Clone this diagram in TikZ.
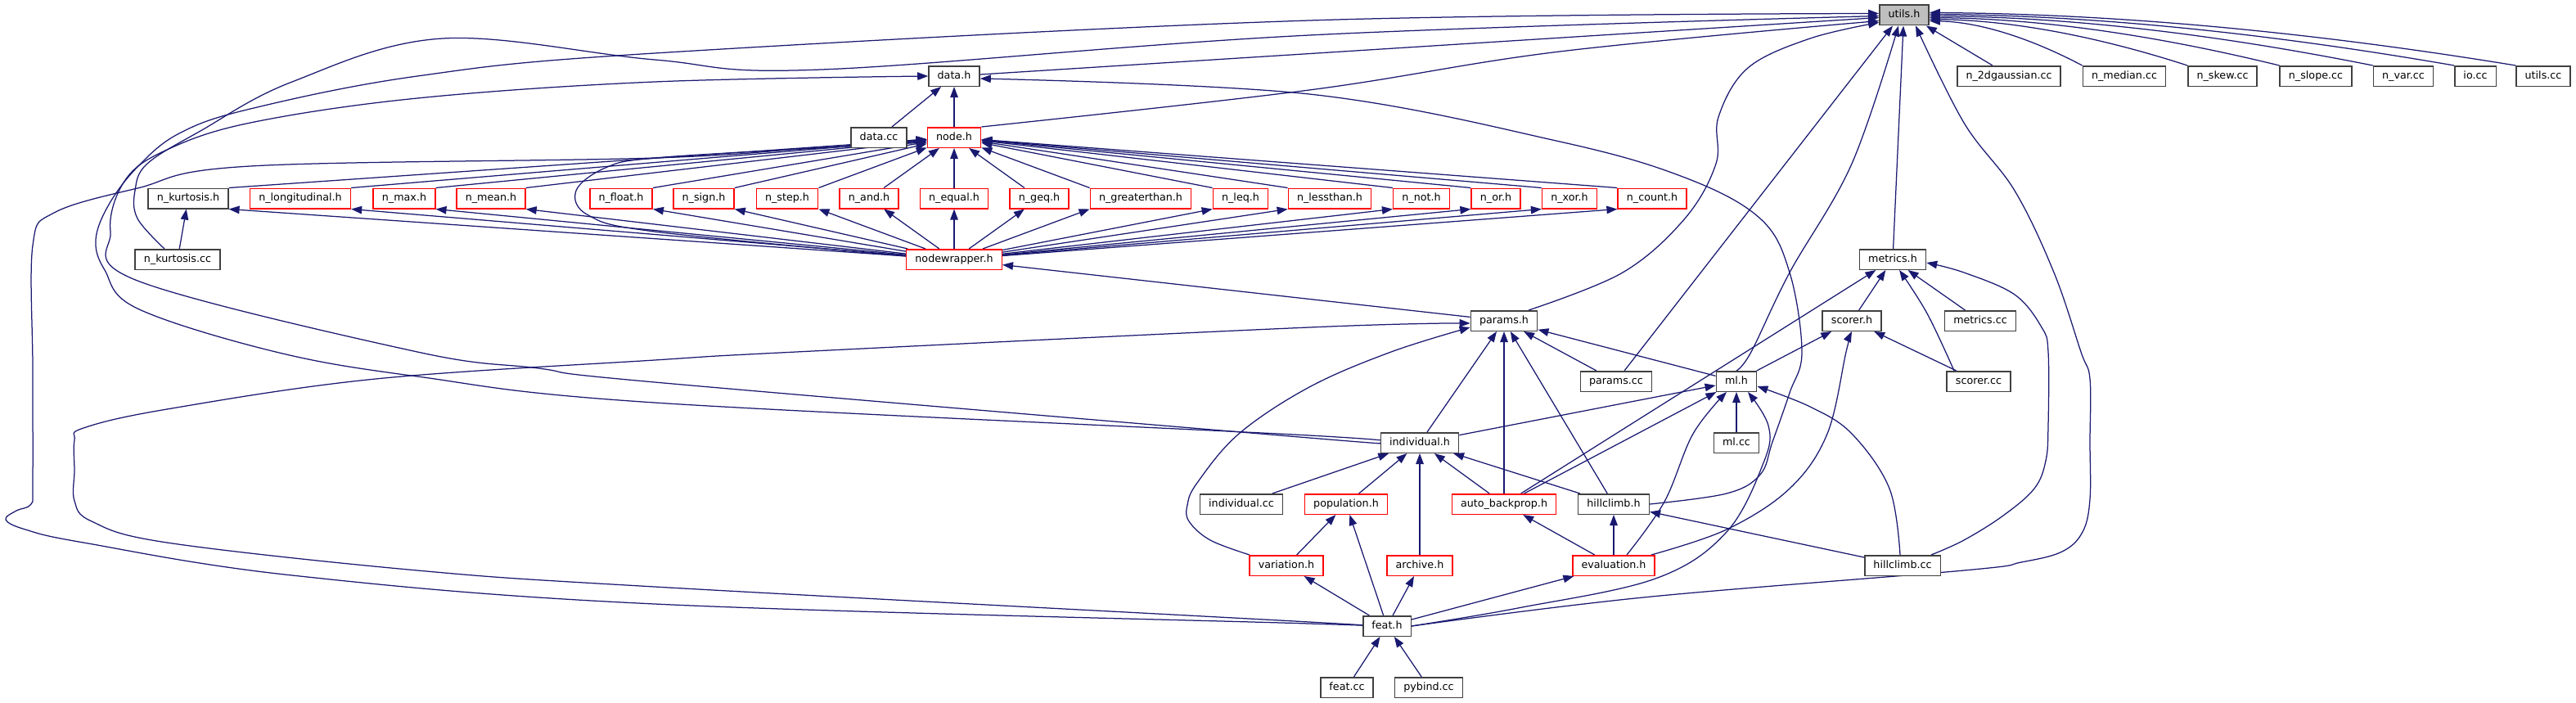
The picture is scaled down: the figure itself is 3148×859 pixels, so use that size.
\documentclass[tikz,border=0pt]{standalone}
\usepackage{fontspec}
\setmainfont{DejaVu Sans}
\usetikzlibrary{arrows.meta}
\definecolor{edgeblue}{HTML}{191970}
\definecolor{boxgray}{HTML}{404040}
\definecolor{rootfill}{HTML}{BFBFBF}
\definecolor{boxred}{HTML}{FF0000}
\pgfdeclarelayer{bg}
\pgfsetlayers{bg,main}
\tikzset{
  bx/.style={draw=boxgray, line width=1.5pt, fill=white, minimum height=24.5pt,
    inner xsep=10.7pt, inner ysep=0pt, text height=9.7pt, text depth=3pt,
    font=\fontsize{12.7}{14}\selectfont},
  rbx/.style={bx, draw=boxred},
  rootbx/.style={bx, fill=rootfill},
  e/.style={draw=edgeblue, line width=1.25pt, -{Triangle[length=13pt,width=9.5pt]}},
  sm/.style={smooth, tension=0.6},
}
\begin{document}
\begin{tikzpicture}[x=1pt,y=-1pt]
\useasboundingbox (0,0) rectangle (3148,859);
% row 0
\node[rootbx] (utilsh) at (2327,18.5) {utils.h};
% row 1
\node[bx] (datah) at (1166,93) {data.h};
\node[bx] (g2d) at (2455,93) {n\_2dgaussian.cc};
\node[bx] (median) at (2596,93) {n\_median.cc};
\node[bx] (skew) at (2716,93) {n\_skew.cc};
\node[bx] (slope) at (2830,93) {n\_slope.cc};
\node[bx] (nvarcc) at (2937,93) {n\_var.cc};
\node[bx] (iocc) at (3025,93) {io.cc};
\node[bx] (utilscc) at (3108,93) {utils.cc};
% row 2
\node[bx] (datacc) at (1074,168) {data.cc};
\node[rbx] (nodeh) at (1166,168) {node.h};
% row 3
\node[bx] (nkurt) at (230,242.5) {n\_kurtosis.h};
\node[rbx] (nlongi) at (367,242.5) {n\_longitudinal.h};
\node[rbx] (nmax) at (494,242.5) {n\_max.h};
\node[rbx] (nmean) at (600,242.5) {n\_mean.h};
\node[rbx] (nfloat) at (759,242.5) {n\_float.h};
\node[rbx] (nsign) at (860,242.5) {n\_sign.h};
\node[rbx] (nstep) at (962,242.5) {n\_step.h};
\node[rbx] (nand) at (1062,242.5) {n\_and.h};
\node[rbx] (nequal) at (1166,242.5) {n\_equal.h};
\node[rbx] (ngeq) at (1270,242.5) {n\_geq.h};
\node[rbx] (ngt) at (1394,242.5) {n\_greaterthan.h};
\node[rbx] (nleq) at (1516,242.5) {n\_leq.h};
\node[rbx] (nlt) at (1625,242.5) {n\_lessthan.h};
\node[rbx] (nnot) at (1737,242.5) {n\_not.h};
\node[rbx] (nor) at (1828,242.5) {n\_or.h};
\node[rbx] (nxor) at (1918,242.5) {n\_xor.h};
\node[rbx] (ncount) at (2019,242.5) {n\_count.h};
% row 4
\node[bx] (kurtcc) at (217,317) {n\_kurtosis.cc};
\node[rbx] (nw) at (1166,317) {nodewrapper.h};
\node[bx] (metrics) at (2313,317) {metrics.h};
% row 5
\node[bx] (params) at (1838,392) {params.h};
\node[bx] (scorer) at (2263,392) {scorer.h};
\node[bx] (metricscc) at (2420,392) {metrics.cc};
% row 6
\node[bx] (paramscc) at (1975,466) {params.cc};
\node[bx] (ml) at (2122,466) {ml.h};
\node[bx] (scorercc) at (2418,466) {scorer.cc};
% row 7
\node[bx] (indiv) at (1735,541) {individual.h};
\node[bx] (mlcc) at (2122,541) {ml.cc};
% row 8
\node[bx] (indivcc) at (1517,616) {individual.cc};
\node[rbx] (pop) at (1645,616) {population.h};
\node[rbx] (ab) at (1838,616) {auto\_backprop.h};
\node[bx] (hc) at (1972,616) {hillclimb.h};
% row 9
\node[rbx] (variation) at (1572,691) {variation.h};
\node[rbx] (archive) at (1735,691) {archive.h};
\node[rbx] (eval) at (1972,691) {evaluation.h};
\node[bx] (hccc) at (2325,691) {hillclimb.cc};
% row 10, 11
\node[bx] (feat) at (1695,765) {feat.h};
\node[bx] (featcc) at (1646,840) {feat.cc};
\node[bx] (pybind) at (1746,840) {pybind.cc};

\begin{pgfonlayer}{bg}
% ---- into utils.h
\draw[e] (datah) -- ([yshift=-3pt]utilsh.west);
\draw[e] plot[sm] coordinates {(nodeh.north east) (1600,110) (1906,63) ([yshift=-7pt]utilsh.west)};
\draw[e] plot[sm] coordinates {([xshift=-16pt]kurtcc.north) (168,267) (165,233) (180,200) (245,160) (357,100) (541,47) (800,73) (1004,85) (1600,43) ([yshift=-1pt]utilsh.west)};
\draw[e] plot[sm] coordinates {(indiv.west) (1600,532) (800,492) (510,460) (337,430) (168,377) (128,330) (117,293) (133,250) (168,204) (219,163) (306,133) (510,93) (800,65) (1600,25) ([yshift=2pt]utilsh.west)};
\draw[e] plot[sm] coordinates {([xshift=30pt]params.north) (1983,333) (2059,267) (2097,200) (2100,143) (2136,83) (2212,47) ([yshift=-9pt]utilsh.west)};
\draw[e] (paramscc) -- ([xshift=-14pt]utilsh.south);
\draw[e] plot[sm] coordinates {(ml.north) (2140,430) (2187,333) (2263,200) ([xshift=-7pt]utilsh.south)};
\draw[e] (metrics) -- ([xshift=-1pt]utilsh.south);
\draw[e] plot[sm] coordinates {(feat.east) (2008,730) (2400,697) (2470,687) (2520,674) (2545,650) (2554,610) (2554,540) (2554,463) (2543,430) (2510,333) (2462,233) (2400,150) ([xshift=14pt]utilsh.south)};
\draw[e] ([xshift=-20pt]g2d.north) -- ([xshift=-4pt]utilsh.south east);
\draw[e] (median.north west) .. controls (2482,47) and (2420,27) .. ([yshift=-7pt]utilsh.east);
\draw[e] (skew.north west) .. controls (2568,46) and (2463,25) .. ([yshift=-5pt]utilsh.east);
\draw[e] (slope.north west) .. controls (2642,45) and (2501,23) .. ([yshift=-3pt]utilsh.east);
\draw[e] (nvarcc.north west) .. controls (2719,44) and (2539,21) .. ([yshift=-1pt]utilsh.east);
\draw[e] (iocc.north west) .. controls (2785,43) and (2572,19) .. ([yshift=1pt]utilsh.east);
\draw[e] (utilscc.north west) .. controls (2836,41) and (2597,17) .. ([yshift=3pt]utilsh.east);
% ---- into data.h
\draw[e] (datacc) -- (datah);
\draw[e] (nodeh) -- (datah);
\draw[e] plot[sm] coordinates {(indiv.west) (1600,535) (800,467) (658,450) (510,430) (168,343) (135,283) (153,220) (204,183) (306,150) (510,120) (800,100) (datah.west)};
\draw[e] plot[sm] coordinates {(hc.east) (2110,603) (2151,580) (2166,540) (2187,480) (2202,430) (2187,333) (2151,267) (2059,217) (1906,173) (1600,115) ([yshift=-3pt]datah.east)};
% ---- row 3 <-> node.h / nodewrapper.h
\foreach \n in {nkurt,nlongi,nmax,nmean,nfloat,nsign,nstep}{
  \draw[e] (\n.north east) -- (nodeh);
  \draw[e] (nw) -- (\n.south east);
}
\foreach \n in {nand,nequal,ngeq}{
  \draw[e] (\n) -- (nodeh);
  \draw[e] (nw) -- (\n);
}
\foreach \n in {ngt,nleq,nlt,nnot,nor,nxor,ncount}{
  \draw[e] (\n.north west) -- (nodeh);
  \draw[e] (nw) -- (\n.south west);
}
\draw[e] (kurtcc) -- (nkurt);
\draw[e] plot[sm] coordinates {([yshift=4pt]nw.west) (800,283) (719,263) (704,233) (740,205) (800,193) (1000,181) ([yshift=-6pt]nodeh.west)};
\draw[e] plot[sm] coordinates {(feat.west) (1600,762) (800,738) (357,703) (102,663) (31,647) (7,635) (20,624) (38,616) (40,590) (40,450) (40,300) (66,260) (168,230) (306,203) (800,193) (1000,180) ([yshift=-2pt]nodeh.west)};
% ---- params.h
\draw[e] (params) -- (nw);
\draw[e] plot[sm] coordinates {(feat.west) (1600,760) (800,717) (510,697) (204,663) (112,637) (91,612) (91,575) (91,538) (102,523) (204,500) (459,463) (800,440) (973,430) (1600,400) ([yshift=-3pt]params.west)};
\draw[e] plot[sm] coordinates {([xshift=-45pt]variation.north) (1479,660) (1453,637) (1451,617) (1463,590) (1514,530) (1600,473) (1700,430) ([yshift=-8pt]params.west)};
\draw[e] (indiv) -- (params);
\draw[e] (ab) -- (params);
\draw[e] (hc) -- (params);
\draw[e] (paramscc) -- (params);
\draw[e] (ml) -- (params);
% ---- metrics.h
\draw[e] (ab) -- (metrics);
\draw[e] (scorer) -- (metrics);
\draw[e] plot[sm] coordinates {([xshift=-30pt]scorercc.north) (2355,383) ([xshift=8pt]metrics.south)};
\draw[e] (metricscc) -- (metrics);
\draw[e] plot[sm] coordinates {([xshift=35pt]hccc.north) (2400,660) (2448,630) (2486,597) (2500,563) (2503,520) (2503,430) (2495,400) (2462,360) (2400,333) ([yshift=-4pt]metrics.east)};
% ---- scorer.h
\draw[e] (ml) -- (scorer);
\draw[e] plot[sm] coordinates {([xshift=-5pt]eval.north east) (2110,647) (2187,597) (2233,530) (2256,430) (scorer.south)};
\draw[e] (scorercc) -- (scorer);
% ---- ml.h
\draw[e] (indiv) -- (ml);
\draw[e] (ab) -- (ml);
\draw[e] plot[sm] coordinates {([xshift=16pt]eval.north) (2034,613) (2069,530) ([xshift=-12pt]ml.south)};
\draw[e] (mlcc) -- (ml);
\draw[e] plot[sm] coordinates {(feat.east) (1855,743) (2023,707) (2110,650) (2156,563) (2161,520) ([xshift=14pt]ml.south)};
\draw[e] plot[sm] coordinates {([xshift=-3pt]hccc.north) (2309,597) (2263,530) (2212,497) ([yshift=-6pt]ml.east)};
% ---- individual.h
\draw[e] (indivcc) -- (indiv);
\draw[e] (pop) -- (indiv);
\draw[e] (archive) -- (indiv);
\draw[e] (ab) -- (indiv);
\draw[e] (hc) -- (indiv);
% ---- lower
\draw[e] (variation) -- (pop);
\draw[e] (feat) -- (pop);
\draw[e] (eval) -- (ab);
\draw[e] (eval) -- (hc);
\draw[e] (hccc) -- (hc);
\draw[e] (feat) -- (archive);
\draw[e] (feat) -- (eval);
\draw[e] (feat) -- (variation);
\draw[e] (featcc) -- (feat);
\draw[e] (pybind) -- (feat);
\end{pgfonlayer}
\end{tikzpicture}
\end{document}
